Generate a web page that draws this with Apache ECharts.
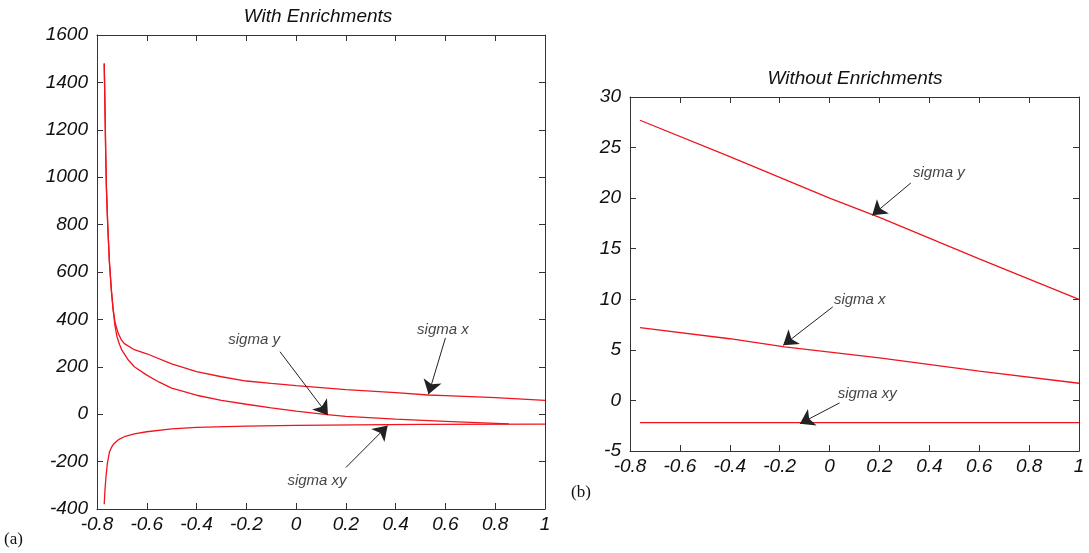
<!DOCTYPE html>
<html>
<head>
<meta charset="utf-8">
<script src="https://cdn.jsdelivr.net/npm/echarts@6/dist/echarts.min.js"></script>
<style>
  html, body { margin: 0; padding: 0; background: #fff; }
  #chart { width: 1089px; height: 553px; }
</style>
</head>
<body>
<div id="chart"></div>
<script>
// (a) With Enrichments
const leftSigmaX = [
    [-0.771, 1480], [-0.768, 1300], [-0.765, 1100], [-0.762, 950], [-0.757, 800],
    [-0.75, 640], [-0.742, 520], [-0.735, 440], [-0.727, 385], [-0.715, 342], [-0.703, 315],
    [-0.69, 298], [-0.65, 272], [-0.6, 255], [-0.5, 212], [-0.4, 180], [-0.3, 158], [-0.2, 140],
    [-0.1, 130], [0, 121], [0.2, 104], [0.4, 91], [0.53, 81], [0.6, 78], [0.8, 70], [1, 58]
]
const leftSigmaY = [
    [-0.771, 1480], [-0.768, 1300], [-0.765, 1100], [-0.762, 950], [-0.757, 800],
    [-0.75, 640], [-0.742, 520], [-0.735, 440], [-0.728, 375], [-0.72, 328], [-0.71, 295],
    [-0.7, 270], [-0.676, 231], [-0.65, 200], [-0.6, 165], [-0.55, 135], [-0.5, 110],
    [-0.4, 80], [-0.3, 58], [-0.2, 42], [-0.1, 27], [0, 13], [0.125, -2], [0.2, -9],
    [0.4, -21], [0.6, -30], [0.855, -41]
]
const leftSigmaXY = [
    [-0.771, -380], [-0.768, -320], [-0.764, -265], [-0.758, -205], [-0.75, -160],
    [-0.742, -140], [-0.735, -128], [-0.72, -113], [-0.71, -105], [-0.69, -95], [-0.65, -83],
    [-0.6, -74], [-0.5, -62], [-0.4, -56], [-0.2, -50], [0, -47], [0.24, -45], [0.5, -43], [1, -42]
]

// (b) Without Enrichments
const rightSigmaY = [[-0.76, 27.7], [-0.4, 24.1], [0, 20.0], [0.2, 18.1], [0.6, 14.0], [1, 10.0]]
const rightSigmaX = [[-0.76, 7.2], [-0.4, 6.1], [-0.18, 5.3], [0.2, 4.2], [0.6, 2.9], [1, 1.7]]
const rightSigmaXY = [[-0.76, -2.2], [0, -2.2], [1, -2.2]]

// annotations: [x, y, text] and arrows [from, to]
const leftLabels = [[-0.169, 314, 'sigma y'], [0.59, 356, 'sigma x'], [0.084, -283, 'sigma xy']]
const leftArrows = [
    [[-0.065, 264], [0.128, -4]],
    [[0.6, 322], [0.532, 84]],
    [[0.2, -225], [0.368, -48]]
]
const rightLabels = [[0.438, 22.5, 'sigma y'], [0.121, 9.9, 'sigma x'], [0.151, 0.7, 'sigma xy']]
const rightArrows = [
    [[0.326, 21.5], [0.171, 18.3]],
    [[0.013, 9.25], [-0.186, 5.45]],
    [[0.04, -0.25], [-0.119, -2.3]]
]

const red = '#f0141e'
const tickFont = { fontFamily: 'Liberation Sans', fontStyle: 'italic', fontSize: 19, color: '#111' }

const chart = echarts.init(document.getElementById('chart'))

function xAx(grid, pos) {
    return {
        type: 'value', gridIndex: grid, position: pos, min: -0.8, max: 1, interval: 0.2,
        axisLine: { show: true, onZero: false, lineStyle: { color: '#333', width: 1 } },
        axisTick: { show: true, inside: true, length: 6, lineStyle: { color: '#333' } },
        axisLabel: Object.assign({ show: pos === 'bottom', margin: 6 }, tickFont),
        splitLine: { show: false }
    }
}
function yAx(grid, pos, min, max, interval) {
    return {
        type: 'value', gridIndex: grid, position: pos, min: min, max: max, interval: interval,
        axisLine: { show: true, onZero: false, lineStyle: { color: '#333', width: 1 } },
        axisTick: { show: true, inside: true, length: 6, lineStyle: { color: '#333' } },
        axisLabel: Object.assign({ show: pos === 'left', margin: 9, formatter: v => String(v) }, tickFont),
        splitLine: { show: false }
    }
}
function curve(data, xi, yi) {
    return {
        type: 'line', xAxisIndex: xi, yAxisIndex: yi, data: data, showSymbol: false,
        smooth: false, lineStyle: { color: red, width: 1.3 }, silent: true
    }
}
function arrows(list, xi, yi) {
    return {
        type: 'lines', coordinateSystem: 'cartesian2d', xAxisIndex: xi, yAxisIndex: yi,
        symbol: ['none', 'arrow'], symbolSize: 14, silent: true, z: 5,
        lineStyle: { color: '#222', width: 1, opacity: 1 },
        data: list.map(a => ({ coords: a }))
    }
}
function labels(list, xi, yi) {
    return {
        type: 'scatter', xAxisIndex: xi, yAxisIndex: yi, symbolSize: 1, silent: true, z: 6,
        itemStyle: { color: 'transparent' },
        label: {
            show: true, position: 'inside', formatter: p => p.data[2],
            fontFamily: 'Liberation Sans', fontStyle: 'italic', fontSize: 15, color: '#111'
        },
        data: list
    }
}

const option = {
    backgroundColor: '#fff',
    animation: false,
    grid: [
        { left: 97, top: 35, width: 448, height: 474 },
        { left: 630, top: 97, width: 449, height: 354 }
    ],
    xAxis: [xAx(0, 'bottom'), xAx(0, 'top'), xAx(1, 'bottom'), xAx(1, 'top')],
    yAxis: [
        yAx(0, 'left', -400, 1600, 200), yAx(0, 'right', -400, 1600, 200),
        yAx(1, 'left', -5, 30, 5), yAx(1, 'right', -5, 30, 5)
    ],
    graphic: [
        { type: 'text', x: 318, y: 17, style: { text: 'With Enrichments', font: 'italic 19px "Liberation Sans"', fill: '#111', align: 'center', verticalAlign: 'middle' } },
        { type: 'text', x: 855, y: 79, style: { text: 'Without Enrichments', font: 'italic 19px "Liberation Sans"', fill: '#111', align: 'center', verticalAlign: 'middle' } },
        { type: 'text', x: 4, y: 531, style: { text: '(a)', font: '17px "Liberation Serif"', fill: '#111' } },
        { type: 'text', x: 571, y: 484, style: { text: '(b)', font: '17px "Liberation Serif"', fill: '#111' } }
    ],
    series: [
        curve(leftSigmaX, 0, 0), curve(leftSigmaY, 0, 0), curve(leftSigmaXY, 0, 0),
        curve(rightSigmaY, 2, 2), curve(rightSigmaX, 2, 2), curve(rightSigmaXY, 2, 2),
        arrows(leftArrows, 0, 0), arrows(rightArrows, 2, 2),
        labels(leftLabels, 0, 0), labels(rightLabels, 2, 2)
    ]
}

chart.setOption(option)
</script>
</body>
</html>
